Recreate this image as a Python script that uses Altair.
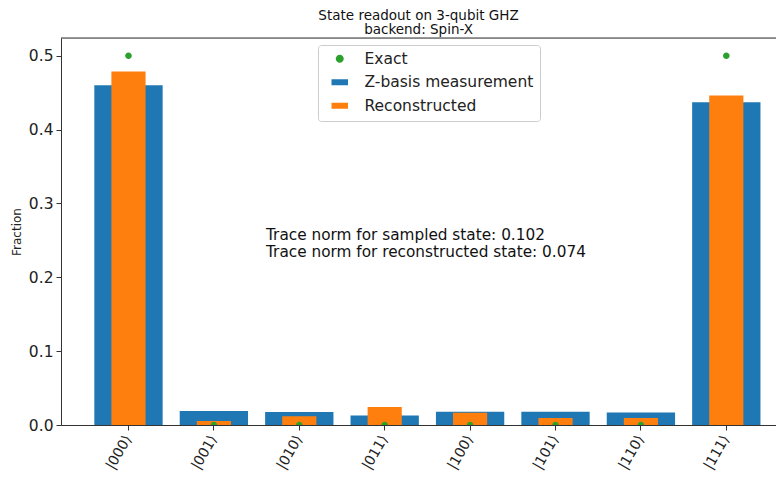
import altair as alt
import pandas as pd

states = ["|000⟩", "|001⟩", "|010⟩", "|011⟩", "|100⟩", "|101⟩", "|110⟩", "|111⟩"]
zbasis = [0.460, 0.019, 0.0175, 0.013, 0.018, 0.018, 0.017, 0.437]
reconstructed = [0.4785, 0.0055, 0.012, 0.0245, 0.0165, 0.0095, 0.0095, 0.446]
exact = [0.5, 0.0, 0.0, 0.0, 0.0, 0.0, 0.0, 0.5]

series_names = ["Exact", "Z-basis measurement", "Reconstructed"]
series_colors = ["#2ca02c", "#1f77b4", "#ff7f0e"]

df_z = pd.DataFrame({"state": states, "value": zbasis, "series": "Z-basis measurement"})
df_r = pd.DataFrame({"state": states, "value": reconstructed, "series": "Reconstructed"})
df_e = pd.DataFrame({"state": states, "value": exact, "series": "Exact"})

FONT = "DejaVu Sans"

x_enc = alt.X(
    "state:N",
    sort=states,
    scale=alt.Scale(paddingInner=0, paddingOuter=0.186, align=0.78),
    axis=alt.Axis(
        title=None, labelAngle=-60, labelAlign="right", labelBaseline="middle",
        labelFontSize=14, labelFont=FONT, labelColor="#222222", labelPadding=6,
        tickSize=5, tickColor="#333333", domainColor="#333333", grid=False,
        labelOverlap=False,
    ),
)
y_enc = alt.Y(
    "value:Q",
    scale=alt.Scale(domain=[0, 0.524], nice=False, zero=True),
    axis=alt.Axis(
        title="Fraction", titleFont=FONT, titleFontSize=12, titleFontWeight="normal",
        titleColor="#222222", titlePadding=5,
        values=[0, 0.1, 0.2, 0.3, 0.4, 0.5], format=".1f",
        labelFontSize=15.5, labelFont=FONT, labelColor="#222222", labelPadding=3,
        tickSize=5, tickColor="#333333", domainColor="#333333", grid=False,
    ),
)

color_scale = alt.Scale(domain=series_names, range=series_colors)
rect_path = "M-1.65,-0.6H1.65V0.6H-1.65Z"
circ_path = "M-0.8,0A0.8,0.8 0 1,0 0.8,0A0.8,0.8 0 1,0 -0.8,0Z"
shape_scale = alt.Scale(domain=series_names, range=[circ_path, rect_path, rect_path])

legend = alt.Legend(
    title=None, orient="none", legendX=257, legendY=7,
    labelFont=FONT, labelFontSize=15.5, labelColor="#222222", labelLimit=400,
    symbolSize=100, symbolStrokeWidth=0, symbolOpacity=1,
    rowPadding=6.5, padding=6, strokeColor="#cccccc", cornerRadius=3,
    fillColor="white", labelOffset=17, symbolOffset=8,
)

bars_z = alt.Chart(df_z).mark_bar(width=alt.RelativeBandSize(0.8)).encode(
    x=x_enc, y=y_enc,
    color=alt.Color("series:N", scale=color_scale, legend=legend),
)
bars_r = alt.Chart(df_r).mark_bar(width=alt.RelativeBandSize(0.4)).encode(
    x=x_enc, y=y_enc,
    color=alt.Color("series:N", scale=color_scale, legend=legend),
)
points = alt.Chart(df_e).mark_point(filled=True, size=68, opacity=1, clip=True).encode(
    x=x_enc, y=y_enc,
    color=alt.Color("series:N", scale=color_scale, legend=legend),
    shape=alt.Shape("series:N", scale=shape_scale, legend=legend),
)

annot = alt.Chart(pd.DataFrame({"t": [0]})).mark_text(
    align="left", baseline="middle", font=FONT, fontSize=15.3, color="#111111",
    lineHeight=17,
    text=["Trace norm for sampled state: 0.102", "Trace norm for reconstructed state: 0.074"],
).encode(x=alt.value(205), y=alt.value(197))

top_spine = alt.Chart(pd.DataFrame({"t": [0]})).mark_rule(color="#333333", strokeWidth=1).encode(
    x=alt.value(0), x2=alt.value(715), y=alt.value(0)
)

chart = alt.layer(bars_z, bars_r, points, annot, top_spine).properties(
    width=715, height=387,
    title=alt.TitleParams(
        text=["State readout on 3-qubit GHZ", "backend: Spin-X"],
        font=FONT, fontSize=13.5, fontWeight="normal", color="#111111",
        anchor="middle", offset=1, lineHeight=14.5,
    ),
    autosize=alt.AutoSizeParams(type="none"),
    padding={"left": 53, "top": 30, "right": 0, "bottom": 49},
).configure_view(stroke=None).configure(background="white")

chart.save("out.html", embed_options={"renderer": "svg", "actions": False})
